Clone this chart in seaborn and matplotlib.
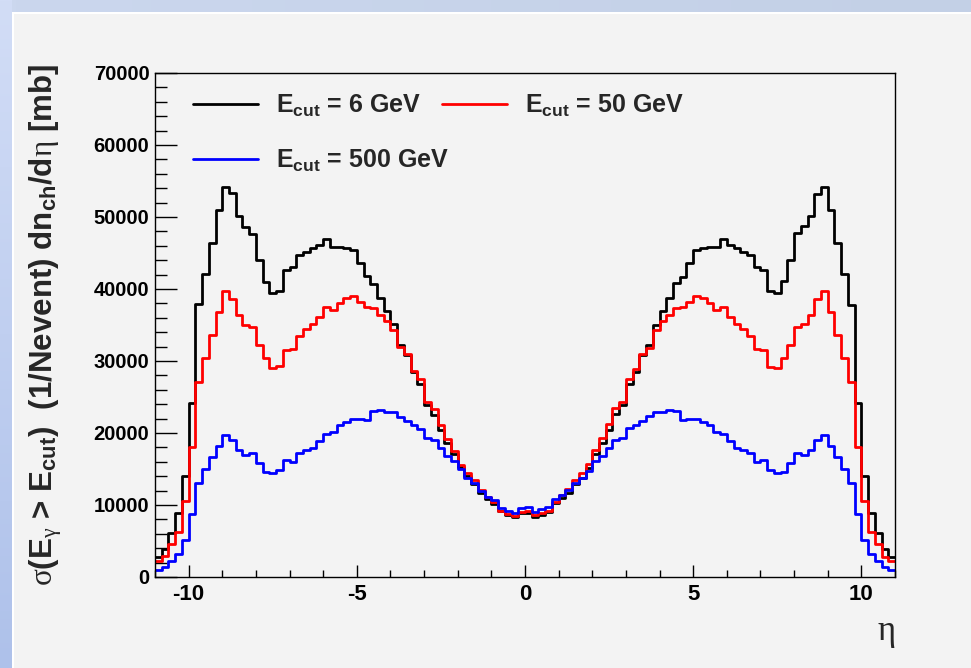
import numpy as np
import pandas as pd
import matplotlib
matplotlib.use("Agg")
import matplotlib.pyplot as plt
from matplotlib.ticker import MultipleLocator
from matplotlib.lines import Line2D
import seaborn as sns

# eta binning: 110 bins of width 0.2 between -11 and 11
bin_edges = [round(v, 2) for v in np.linspace(-11.0, 11.0, 111)]
eta = [round((a + b) / 2, 2) for a, b in zip(bin_edges[:-1], bin_edges[1:])]

# sigma(E_gamma > E_cut) * (1/Nevent) dn_ch/deta [mb], per eta bin
dn_6gev = [
    2800, 3900, 6100, 8850, 14000, 24150, 37900, 42050, 46400, 51000,
    54150, 53300, 50200, 48600, 47700, 44000, 41000, 39500, 39750, 42600,
    43100, 44750, 45200, 45650, 46050, 46950, 45800, 45800, 45700, 45400,
    43550, 41750, 40750, 38700, 37000, 35150, 32250, 30800, 28450, 26770,
    23900, 22550, 20350, 18650, 17120, 15280, 14040, 12980, 11600, 10820,
    10140, 9130, 8670, 8300, 8850,
    8850, 8300, 8670, 8990, 10230, 10970, 11600, 12980, 13810, 15190,
    17120, 18640, 20470, 22620, 23820, 26770, 28520, 30800, 32270, 35030,
    37000, 38700, 40770, 41730, 43660, 45410, 45730, 45820, 45820, 46970,
    46060, 45650, 45190, 44770, 43120, 42610, 39760, 39440, 41140, 44030,
    47710, 48720, 50190, 53220, 54140, 50920, 46330, 42050, 37780, 24230,
    14040, 8850, 6090, 3930, 2790,
]
dn_50gev = [
    2240, 2870, 4620, 6230, 10600, 18040, 27130, 30440, 33650, 36770,
    39760, 38610, 36320, 35030, 34710, 32270, 30440, 29060, 29290, 31490,
    31630, 33470, 34390, 35070, 36180, 37560, 37100, 38010, 38700, 38980,
    38150, 37460, 37370, 36410, 35530, 34250, 31950, 30940, 28600, 27450,
    24240, 23360, 21160, 19230, 17490, 15560, 14410, 13490, 12070, 11150,
    10370, 9220, 8760, 8530, 9080,
    9220, 8670, 8850, 9220, 10370, 11430, 12200, 13440, 14500, 15650,
    17580, 19320, 21250, 23450, 24370, 27490, 28880, 31040, 31810, 34250,
    35490, 36410, 37370, 37460, 38150, 38980, 38700, 38010, 37100, 37560,
    36180, 35070, 34390, 33470, 31630, 31490, 29200, 28970, 30440, 32270,
    34710, 35070, 36410, 38610, 39760, 36770, 33650, 30440, 27040, 18040,
    10510, 6230, 4530, 2790, 2240,
]
dn_500gev = [
    950, 1410, 2180, 3250, 5080, 8760, 13120, 15050, 16700, 18180,
    19790, 19090, 17580, 16940, 17210, 15830, 14640, 14410, 14870, 16200,
    16020, 17260, 17580, 17950, 18860, 19920, 20150, 21160, 21520, 21980,
    21980, 21750, 22990, 23130, 22850, 22850, 22160, 21710, 21160, 20610,
    19320, 19050, 17950, 16800, 16110, 14960, 13720, 12990, 11890, 11150,
    10690, 9540, 9220, 8850, 9590,
    9680, 9080, 9450, 9680, 10810, 11370, 12060, 13120, 13720, 14730,
    16110, 16800, 17950, 19000, 19320, 20700, 21160, 21710, 22310, 22850,
    22850, 23130, 22990, 21750, 21980, 21980, 21520, 21160, 20150, 19920,
    18860, 17950, 17580, 17260, 16020, 16200, 14870, 14410, 14640, 15830,
    17210, 16940, 17580, 19090, 19790, 18180, 16700, 15050, 13120, 8760,
    5080, 3250, 2180, 1410, 950,
]

series = [
    ("6", dn_6gev, "#000000"),
    ("50", dn_50gev, "#ff0000"),
    ("500", dn_500gev, "#0000ff"),
]

sns.set_style("ticks")
plt.rcParams.update({
    "font.family": ["Liberation Sans", "DejaVu Sans"],
    "font.weight": "bold",
    "axes.unicode_minus": False,
    "mathtext.fontset": "custom",
    "mathtext.rm": "Liberation Sans:bold",
    "mathtext.bf": "Liberation Sans:bold",
    "mathtext.it": "Liberation Serif:weight=normal",
    "mathtext.sf": "Liberation Sans:bold",
})

W, H = 971, 668
canvas_grey = "#f3f3f3"
fig = plt.figure(figsize=(W / 100, H / 100), dpi=100, facecolor=canvas_grey)

# slide-style gradient bands along the left and top edges
bg = fig.add_axes([0, 0, 1, 1], zorder=-10)
bg.axis("off")
left_grad = np.linspace(0, 1, 256).reshape(-1, 1)
cmap_left = matplotlib.colors.LinearSegmentedColormap.from_list(
    "lb", ["#d2ddf6", "#aec1ea"])
bg.imshow(left_grad, cmap=cmap_left, aspect="auto", extent=[0, 12, H, 0])
top_grad = np.linspace(0, 1, 256).reshape(1, -1)
cmap_top = matplotlib.colors.LinearSegmentedColormap.from_list(
    "tb", ["#cbd7ee", "#c3d0e6"])
bg.imshow(top_grad, cmap=cmap_top, aspect="auto", extent=[12, W, 12, 0])
bg.add_patch(plt.Rectangle((12, 12), 2, H - 12, color="white", lw=0))
bg.add_patch(plt.Rectangle((12, 12), W - 12, 2, color="white", lw=0))
bg.set_xlim(0, W)
bg.set_ylim(H, 0)

ax = fig.add_axes([155 / W, 1 - 577 / H, 740 / W, 504 / H])
ax.set_facecolor(canvas_grey)

for name, values, color in series:
    frame = pd.DataFrame({"eta": eta, "dn": values})
    sns.histplot(data=frame, x="eta", weights="dn", bins=bin_edges,
                 element="step", fill=False, color=color, linewidth=2.0, ax=ax)

ax.set_xlim(-11, 11)
ax.set_ylim(0, 70000)

ax.xaxis.set_major_locator(MultipleLocator(5))
ax.xaxis.set_minor_locator(MultipleLocator(1))
ax.yaxis.set_major_locator(MultipleLocator(10000))
ax.yaxis.set_minor_locator(MultipleLocator(2000))
ax.tick_params(axis="both", which="both", direction="in", colors="black",
               width=1.0)
ax.tick_params(axis="y", which="major", length=16, pad=4, labelsize=14.5)
ax.tick_params(axis="y", which="minor", length=8.5)
ax.tick_params(axis="x", which="major", length=9, pad=5, labelsize=16)
ax.tick_params(axis="x", which="minor", length=5)
for sp in ax.spines.values():
    sp.set_color("black")
    sp.set_linewidth(1.0)

ax.set_ylabel(r"$\sigma$(E$_{\gamma}$ > E$_{\mathbf{cut}}$)  (1/Nevent) "
              r"dn$_{\mathbf{ch}}$/d$\eta$ [mb]", fontsize=22.5, fontweight="bold")
ax.yaxis.label.set_va("center")
ax.yaxis.set_label_coords(-0.148, 0.5)
ax.set_xlabel(r"$\eta$", fontsize=25)
ax.xaxis.label.set_ha("right")
ax.xaxis.label.set_va("baseline")
ax.xaxis.set_label_coords(1.0, -0.125)

handles = {name: Line2D([], [], color=color, lw=2.0) for name, _, color in series}
labels = {name: r"$\mathbf{E_{cut}}$ = %s GeV" % name for name, _, _ in series}
order = ["6", "500", "50"]
ax.legend([handles[n] for n in order], [labels[n] for n in order],
          ncol=2, loc="upper left", bbox_to_anchor=(0.035, 0.985),
          frameon=False, fontsize=18, handlelength=2.6, handletextpad=0.72,
          columnspacing=-0.3, labelspacing=1.14, borderpad=0.0)

fig.savefig("out.png", dpi=100, facecolor=canvas_grey)
